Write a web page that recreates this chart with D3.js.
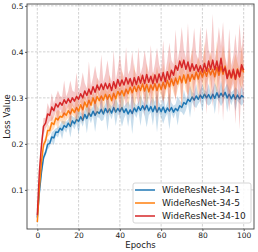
<!DOCTYPE html>
<html>
<head>
<meta charset="utf-8">
<script src="https://cdn.jsdelivr.net/npm/d3@7"></script>
<style>
body { margin: 0; background: #fff; }
svg { display: block; font-family: "DejaVu Sans", sans-serif; }
</style>
</head>
<body>
<svg id="chart" width="258" height="252"></svg>
<script>
// loss values in thousandths, one per epoch (0..100)
var names = ["WideResNet-34-1", "WideResNet-34-5", "WideResNet-34-10"];
var colors = ["#1f77b4", "#ff7f0e", "#d62728"];
var xTicks = [0, 20, 40, 60, 80, 100];
var yTicks = [0.1, 0.2, 0.3, 0.4, 0.5];

var meanW1 = [40,95,138,170,181,199,201,215,213,226,225,234,230,240,236,245,238,250,244,253,
  249,259,251,264,255,267,260,271,262,270,266,275,265,277,268,276,267,279,269,277,
  270,279,268,276,265,274,266,278,270,281,273,283,274,284,272,281,270,282,269,279,
  270,280,268,278,271,279,269,277,272,283,279,290,286,297,292,302,295,304,297,306,
  299,308,300,307,298,308,299,311,301,310,303,312,300,308,298,307,297,306,298,305,301];
var meanW5 = [30,105,160,198,207,229,229,246,242,256,252,260,258,267,262,272,265,276,268,279,
  271,285,274,291,280,295,284,300,288,303,294,304,295,308,297,307,294,310,298,314,
  306,316,304,319,309,323,311,325,314,327,316,330,315,329,313,328,317,331,316,330,
  318,334,320,338,324,341,327,343,330,347,333,350,332,351,336,351,340,356,341,358,
  345,360,347,363,350,362,346,366,349,368,351,369,345,357,343,358,340,363,346,367,355];
var meanW10 = [45,140,196,238,245,265,262,280,272,287,280,290,284,296,288,298,290,300,293,303,
  297,309,300,315,305,319,308,324,312,328,317,330,318,332,320,331,316,335,321,340,
  326,339,328,344,330,342,326,344,329,346,332,349,331,351,334,347,331,350,333,352,
  337,355,335,357,340,360,349,370,360,380,366,382,362,378,358,374,360,372,357,370,
  356,375,358,380,362,382,361,380,358,386,357,365,342,360,344,362,341,361,346,372,360];

// half-width of the shaded run-to-run band
var spreadW1 = [2,5,7,8,6,12,7,10,16,8,11,7,20,9,12,8,24,10,13,9,
  28,10,14,9,32,11,15,10,36,12,9,26,13,10,40,11,14,9,30,12,
  10,42,13,11,28,9,45,12,14,10,34,11,13,48,10,12,30,9,44,11,
  13,36,10,12,40,11,14,9,32,12,10,28,13,9,35,11,14,26,10,12,
  30,9,13,24,11,10,34,12,9,28,13,10,32,11,14,9,26,12,10,22,11];
var spreadW5 = [2,6,8,10,8,14,9,18,10,12,22,10,13,26,11,14,30,12,10,34,
  13,11,28,14,12,38,11,15,13,42,12,14,32,11,16,44,12,13,36,11,
  15,48,12,14,34,13,11,50,14,12,38,15,13,46,12,16,40,13,52,14,
  12,42,15,13,55,14,16,44,12,15,58,13,17,46,14,60,15,13,48,16,
  14,62,15,17,50,14,16,58,13,15,64,16,14,52,17,15,56,14,16,48,15];
var spreadW10 = [3,10,14,18,12,24,13,30,15,16,36,14,18,42,15,17,48,16,19,52,
  15,18,55,17,16,60,18,20,58,16,19,64,17,21,62,18,20,68,17,22,
  70,19,18,66,21,20,74,18,22,64,20,19,72,23,21,68,20,24,76,21,
  22,70,20,25,80,22,24,78,21,26,88,23,25,84,22,27,92,24,26,86,
  23,28,94,25,27,100,24,29,96,26,108,25,28,90,27,30,98,26,115,28,95];

var means = [meanW1, meanW5, meanW10];
var spreads = [spreadW1, spreadW5, spreadW10];
var epochs = d3.range(meanW1.length);

var svg = d3.select("#chart");
var margin = {left: 27, right: 4, top: 4, bottom: 23};
var W = 258, H = 252;

var x = d3.scaleLinear().domain([-5, 105]).range([margin.left, W - margin.right]);
var y = d3.scaleLinear().domain([0.015, 0.504]).range([H - margin.bottom, margin.top]);

// grid
var grid = svg.append("g").attr("stroke", "#b0b0b0").attr("stroke-width", 0.8)
  .attr("stroke-dasharray", "2.5,1.5").attr("opacity", 0.7);
grid.selectAll(".gx").data(xTicks).enter().append("line")
  .attr("x1", d => x(d)).attr("x2", d => x(d))
  .attr("y1", margin.top).attr("y2", H - margin.bottom);
grid.selectAll(".gy").data(yTicks).enter().append("line")
  .attr("y1", d => y(d)).attr("y2", d => y(d))
  .attr("x1", margin.left).attr("x2", W - margin.right);

var plot = svg.append("g");

means.forEach(function(m, s) {
  var sp = spreads[s];
  var area = d3.area()
    .x(function(d) { return x(d); })
    .y0(function(d) { return y((m[d] - sp[d]) / 1000); })
    .y1(function(d) { return y((m[d] + sp[d]) / 1000); });
  plot.append("path").datum(epochs)
    .attr("d", area)
    .attr("fill", colors[s])
    .attr("fill-opacity", 0.25);
  var line = d3.line()
    .x(function(d) { return x(d); })
    .y(function(d) { return y(m[d] / 1000); });
  plot.append("path").datum(epochs)
    .attr("d", line)
    .attr("fill", "none")
    .attr("stroke", colors[s])
    .attr("stroke-width", 1.5)
    .attr("stroke-linejoin", "round");
});

// axes
var xAxis = svg.append("g").attr("transform", "translate(0," + (H - margin.bottom) + ")")
  .call(d3.axisBottom(x).tickValues(xTicks).tickSize(2).tickPadding(1.5));
var yAxis = svg.append("g").attr("transform", "translate(" + margin.left + ",0)")
  .call(d3.axisLeft(y).tickValues(yTicks).tickFormat(d3.format(".1f")).tickSize(2).tickPadding(1.5));
[xAxis, yAxis].forEach(function(a) {
  a.select(".domain").remove();
  a.selectAll("text").attr("font-size", 7.5).attr("fill", "#222").attr("font-family", "DejaVu Sans");
  a.selectAll("line").attr("stroke", "#333").attr("stroke-width", 0.8);
});

svg.append("rect")
  .attr("x", margin.left).attr("y", margin.top)
  .attr("width", W - margin.left - margin.right)
  .attr("height", H - margin.top - margin.bottom)
  .attr("fill", "none").attr("stroke", "#444").attr("stroke-width", 0.9);

svg.append("text").attr("x", (margin.left + W - margin.right) / 2).attr("y", 248)
  .attr("text-anchor", "middle").attr("font-size", 8.5).attr("fill", "#222").text("Epochs");
svg.append("text")
  .attr("transform", "translate(10," + ((margin.top + H - margin.bottom) / 2) + ") rotate(-90)")
  .attr("text-anchor", "middle").attr("font-size", 8.5).attr("fill", "#222").text("Loss Value");

// legend
var lg = svg.append("g").attr("transform", "translate(133,183)");
lg.append("rect").attr("width", 118).attr("height", 40).attr("rx", 2)
  .attr("fill", "#fff").attr("fill-opacity", 0.85).attr("stroke", "#ccc").attr("stroke-width", 0.8);
var items = lg.selectAll(".item").data(names).enter().append("g")
  .attr("transform", function(d, i) { return "translate(0," + (7 + i * 13) + ")"; });
items.append("line").attr("x1", 2).attr("x2", 22)
  .attr("stroke", function(d, i) { return colors[i]; }).attr("stroke-width", 1.5);
items.append("text").attr("x", 29).attr("dy", "0.35em").attr("font-size", 9)
  .attr("fill", "#222").text(function(d) { return d; });
</script>
</body>
</html>
